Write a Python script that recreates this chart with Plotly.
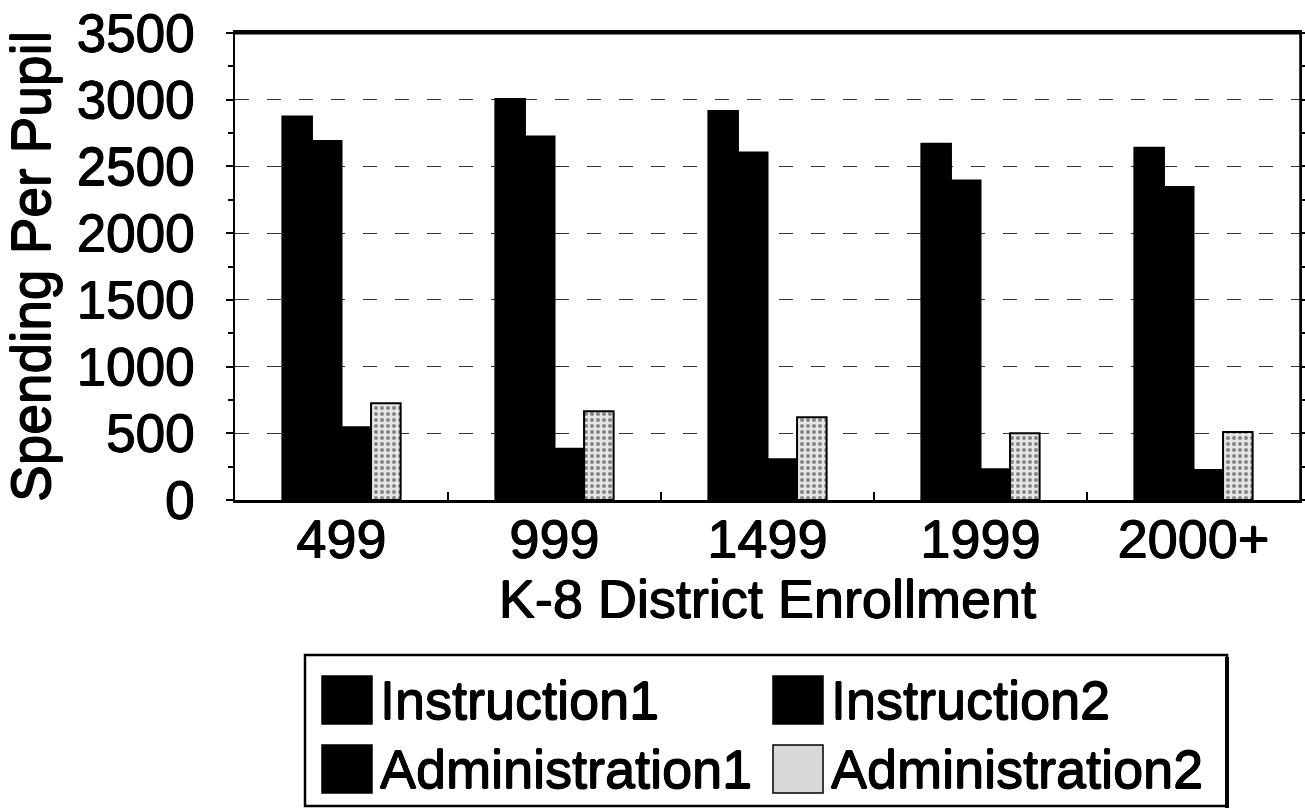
import plotly.graph_objects as go

categories = ["499", "999", "1499", "1999", "2000+"]
series_names = ["Instruction1", "Instruction2", "Administration1", "Administration2"]
instruction1 = [2875, 3005, 2915, 2670, 2640]
instruction2 = [2690, 2725, 2605, 2395, 2345]
administration1 = [545, 385, 305, 230, 225]
administration2 = [725, 665, 620, 500, 510]
series_values = [instruction1, instruction2, administration1, administration2]
y_ticks = [0, 500, 1000, 1500, 2000, 2500, 3000, 3500]

FONT = "Liberation Sans, Arial, sans-serif"
SHADOW = "0.6px 0 0 black, -0.6px 0 0 black, 0 0.6px 0 black, 0 -0.6px 0 black"
W, H = 1305, 811
L, R, T, B = 235, 5, 33, 811 - 500

fills = ["#000000", "#000000", "#000000", "#d8d8d8"]

fig = go.Figure()
for name, vals, col in zip(series_names, series_values, fills):
    marker = dict(color=col, line=dict(color="#000000", width=2))
    if name == "Administration2":
        marker["pattern"] = dict(shape=".", fgcolor="#222222", bgcolor="#e6e6e6",
                                 size=6, solidity=0.35, fillmode="overlay")
    fig.add_trace(go.Bar(x=categories, y=vals, name=name, marker=marker, showlegend=False))

fig.update_layout(
    width=W, height=H,
    margin=dict(l=L, r=R, t=T, b=B, autoexpand=False),
    paper_bgcolor="white", plot_bgcolor="white",
    barmode="group", bargap=0.445, bargroupgap=0,
    font=dict(family=FONT, color="black", size=52, shadow=SHADOW),
)
fig.update_xaxes(
    showline=True, linecolor="black", linewidth=3, mirror=True,
    ticks="inside", ticklen=8, tickwidth=1.5, tickcolor="black",
    tickson="boundaries", showgrid=False,
    tickfont=dict(size=54, shadow=SHADOW), ticklabelstandoff=-10,
    title=dict(text="K-8 District Enrollment", font=dict(size=54, shadow=SHADOW), standoff=0),
)
fig.update_yaxes(
    range=[0, 3500], tickvals=y_ticks, ticktext=[str(v) for v in y_ticks],
    showline=True, linecolor="black", linewidth=1.5, mirror="ticks",
    ticks="outside", ticklen=7, tickwidth=1.5, tickcolor="black",
    minor=dict(dtick=250, ticks="outside", ticklen=5, tickcolor="black", tickwidth=1.5, showgrid=False),
    showgrid=True, gridcolor="#333333", gridwidth=1, griddash="14px,18px",
    zeroline=False,
    tickfont=dict(size=53, shadow=SHADOW), ticklabelstandoff=21,
    ticklabeloverflow="allow",
    title=dict(text="Spending Per Pupil", font=dict(size=55, shadow=SHADOW), standoff=14),
)

def px(x):
    return (x - L) / (W - L - R)

def py(y):
    return (H - B - y) / (H - T - B)

# plot frame: top and right borders
fig.add_shape(type="line", xref="paper", yref="paper", x0=0, x1=1, y0=1, y1=1,
              line=dict(color="black", width=3))
fig.add_shape(type="line", xref="paper", yref="paper", x0=1, x1=1, y0=0, y1=1,
              line=dict(color="black", width=1.5))

# legend box
fig.add_shape(type="rect", xref="paper", yref="paper",
              x0=px(305), x1=px(1227), y0=py(806), y1=py(655),
              line=dict(color="black", width=2.5), fillcolor="white")
fig.add_shape(type="line", xref="paper", yref="paper",
              x0=px(1227), x1=px(1227), y0=py(808), y1=py(657),
              line=dict(color="black", width=4))

slots = [(322, 700), (773, 700), (322, 769), (773, 769)]
for (sx, sy), name, col in zip(slots, series_names, fills):
    fig.add_shape(type="rect", xref="paper", yref="paper",
                  x0=px(sx), x1=px(sx + 50), y0=py(sy + 24), y1=py(sy - 24),
                  line=dict(color="black", width=1.5), fillcolor=col)
    fig.add_annotation(xref="paper", yref="paper", x=px(sx + 56), y=py(sy),
                       text=name, showarrow=False, xanchor="left", yanchor="middle",
                       font=dict(size=54, family=FONT, color="black", shadow=SHADOW))

fig.write_html("out.html", config={"displayModeBar": False},
               post_script="document.body.style.margin='0px';")
